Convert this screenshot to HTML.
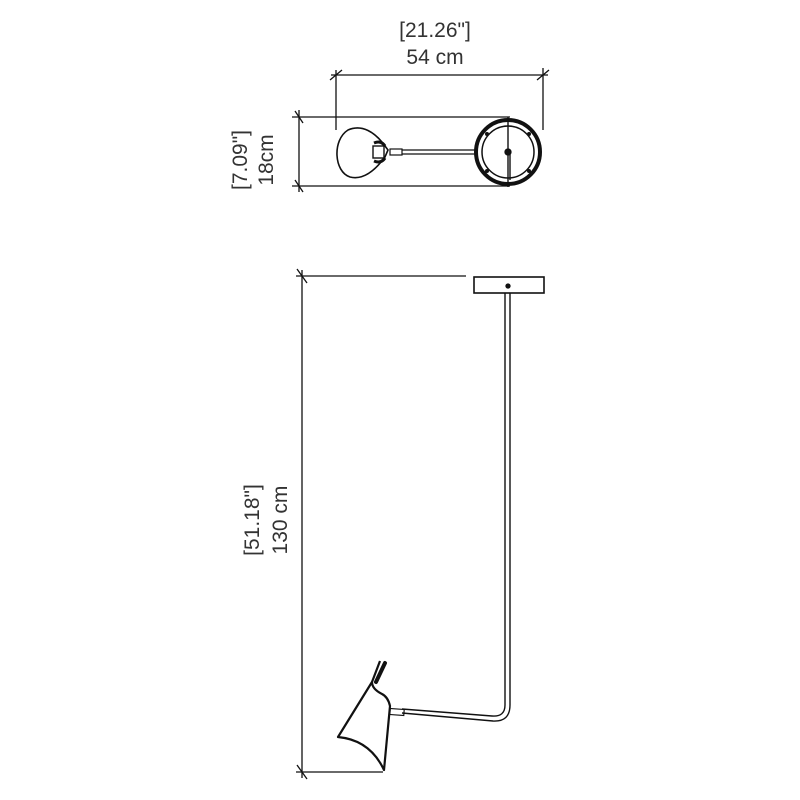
<!DOCTYPE html>
<html><head><meta charset="utf-8"><style>html,body{margin:0;padding:0;background:#fff}svg{display:block}</style></head>
<body>
<svg width="800" height="800" viewBox="0 0 800 800" xmlns="http://www.w3.org/2000/svg">
<g fill="none" stroke="#111" stroke-width="1.3">
<line x1="331" y1="75" x2="548" y2="75"/>
<line x1="330" y1="80" x2="342" y2="70"/>
<line x1="537" y1="80" x2="549" y2="70"/>
<line x1="336" y1="70" x2="336" y2="130"/>
<line x1="543" y1="68" x2="543" y2="130"/>
<line x1="292" y1="117" x2="510" y2="117"/>
<line x1="292" y1="186" x2="510" y2="186"/>
<line x1="299" y1="110" x2="299" y2="192"/>
<line x1="295" y1="111" x2="303" y2="123"/>
<line x1="295" y1="180" x2="303" y2="192"/>
<path d="M348 130 C362 124 375 132 385 146 L388 150 L385 157 C374 172 362 180 350 177 C334 172 332 140 348 130 Z" stroke-width="1.6"/>
<path d="M374 143 Q381 140 385 146 M385 158 Q381 164 374 161" stroke-width="3"/>
<rect x="373" y="146" width="11" height="12" stroke-width="1.4"/>
<rect x="390" y="149" width="12" height="6" stroke-width="1.2"/>
<line x1="402" y1="150" x2="475" y2="150"/>
<line x1="402" y1="154" x2="475" y2="154"/>
<circle cx="508" cy="152" r="32" stroke-width="4"/>
<circle cx="508" cy="152" r="26" stroke-width="1.5"/>
<line x1="508" y1="117" x2="508" y2="187" stroke-width="1.4"/>
<line x1="510" y1="152" x2="510" y2="180" stroke-width="1.4"/>
<circle cx="508" cy="152" r="3" fill="#111"/>
<g fill="#111" stroke="none">
<circle cx="487" cy="134" r="2"/><circle cx="529" cy="134" r="2"/>
<circle cx="487" cy="171" r="2"/><circle cx="529" cy="171" r="2"/>
</g>
<line x1="302" y1="270" x2="302" y2="778"/>
<line x1="296" y1="276" x2="466" y2="276"/>
<line x1="296" y1="772" x2="383" y2="772"/>
<line x1="297" y1="269" x2="307" y2="283"/>
<line x1="297" y1="765" x2="307" y2="779"/>
<rect x="474" y="277" width="70" height="16" stroke-width="1.6"/>
<circle cx="508" cy="286" r="2" fill="#111"/>
<line x1="505" y1="293" x2="505" y2="705" stroke-width="1.4"/>
<line x1="510" y1="293" x2="510" y2="705" stroke-width="1.4"/>
<path d="M510 705 Q510 722 493 721 L402 713" stroke-width="1.4"/>
<path d="M505 705 Q505 717 492 716 L402 709" stroke-width="1.4"/>
<rect x="390" y="709" width="14" height="6" stroke-width="1.2" transform="rotate(4 397 712)"/>
<path d="M380 661 L372 682 Q372 689 382 694 Q388 697 390 706 L384 770 Q370 740 338 737 L372 682" stroke-width="2.2" stroke-linejoin="round"/>
<line x1="385" y1="663" x2="376" y2="682" stroke-width="4" stroke-linecap="round"/>
</g>
<g font-family="Liberation Sans, sans-serif" font-size="21" fill="#333" text-anchor="middle">
<text x="435" y="37">[21.26"]</text>
<text x="435" y="64">54 cm</text>
<text transform="translate(247 160) rotate(-90)">[7.09"]</text>
<text transform="translate(273 160) rotate(-90)">18cm</text>
<text transform="translate(259 520) rotate(-90)">[51.18"]</text>
<text transform="translate(287 520) rotate(-90)">130 cm</text>
</g>
</svg>
</body></html>
